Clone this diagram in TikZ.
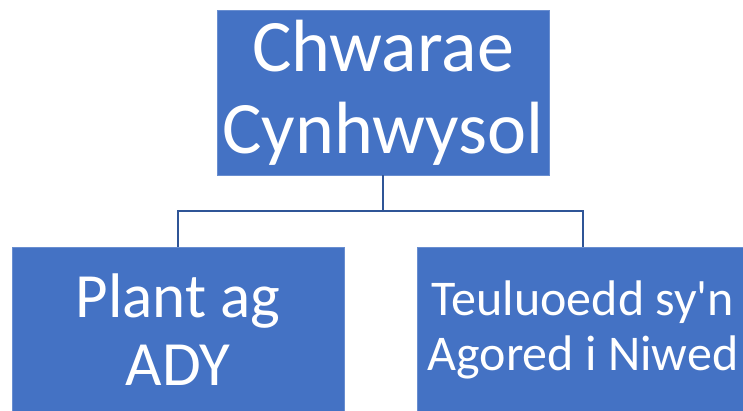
\documentclass[tikz,border=0pt]{standalone}
\usepackage{fontspec}
\setmainfont{Carlito}
\definecolor{boxblue}{HTML}{4472C4}
\definecolor{lineblue}{HTML}{2F5597}
\begin{document}
\begin{tikzpicture}[x=1pt,y=-1pt,
  orgbox/.style={rectangle, fill=boxblue, draw=boxblue!80!white, line width=0.8pt,
    text=white, align=center, inner sep=0pt, minimum width=332pt},
  link/.style={draw=lineblue, line width=2pt}]
\useasboundingbox (0,0) rectangle (743,410);
\node[orgbox, minimum height=165pt, font=\fontsize{74}{82}\selectfont] (top) at (383,92.5) {Chwarae\\Cynhwysol};
\node[orgbox, minimum height=166pt, font=\fontsize{63}{68}\selectfont] (left) at (178,330) {Plant ag\\ADY};
\node[orgbox, minimum height=166pt, font=\fontsize{50}{55}\selectfont] (right) at (583,330) {Teuluoedd sy\textquotesingle n\\Agored i Niwed};
\coordinate (mid) at (383,211);
\draw[link] (top.south) -- (mid);
\draw[link] (left.north) |- (mid) -| (right.north);
\end{tikzpicture}
\end{document}
